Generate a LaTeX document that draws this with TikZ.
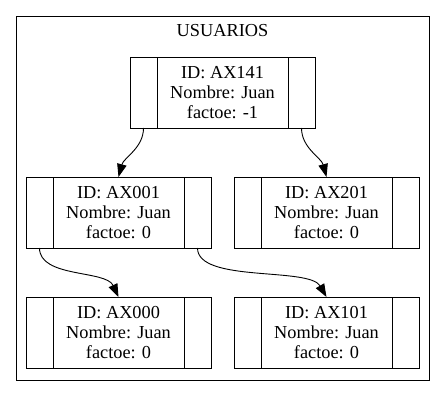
\documentclass[tikz,border=0pt]{standalone}
\usepackage{fontspec}
\setmainfont{Liberation Serif}
\usetikzlibrary{positioning,arrows.meta}
\newcommand\RowTop{92.5}
\newcommand\RowMid{212.5}
\newcommand\RowBot{332.5}
\tikzset{
  field/.style={
    draw,
    line width = 0.9pt,
    minimum width = 131pt,
    minimum height = 71pt,
    inner sep = 0pt,
    outer sep = 0pt,
    align = center,
    font = \fontsize{18.3}{20}\selectfont
  },
  cell/.style={
    draw,
    line width = 0.9pt,
    minimum width = 27pt,
    minimum height = 71pt,
    inner sep = 0pt,
    outer sep = 0pt
  },
  link/.style={
    line width = 0.9pt,
    -{Triangle[length=13pt,width=9.5pt]}
  },
  frame/.style={
    draw,
    line width = 0.9pt
  }
}

\begin{document}
\begin{tikzpicture}[x=1pt,y=-1pt]
    \useasboundingbox (0,0) rectangle (445,396);
    \draw[frame] (16,16) rectangle (429,380);
    \node[font=\fontsize{18.3}{20}\selectfont, anchor=base] (title) at (222.5,36.5) {USUARIOS};

    % top record
    \node[field] (ax141) at (222.5,\RowTop) {ID: AX141\\Nombre: Juan\\factoe: -1};
    \node[cell, left=0pt of ax141] (ax141l) {};
    \node[cell, right=0pt of ax141] (ax141r) {};

    % second row
    \node[field] (ax001) at (118.5,\RowMid) {ID: AX001\\Nombre: Juan\\factoe: 0};
    \node[cell, left=0pt of ax001] (ax001l) {};
    \node[cell, right=0pt of ax001] (ax001r) {};

    \node[field] (ax201) at (326.5,\RowMid) {ID: AX201\\Nombre: Juan\\factoe: 0};
    \node[cell, left=0pt of ax201] (ax201l) {};
    \node[cell, right=0pt of ax201] (ax201r) {};

    % third row
    \node[field] (ax000) at (118.5,\RowBot) {ID: AX000\\Nombre: Juan\\factoe: 0};
    \node[cell, left=0pt of ax000] (ax000l) {};
    \node[cell, right=0pt of ax000] (ax000r) {};

    \node[field] (ax101) at (326.5,\RowBot) {ID: AX101\\Nombre: Juan\\factoe: 0};
    \node[cell, left=0pt of ax101] (ax101l) {};
    \node[cell, right=0pt of ax101] (ax101r) {};

    % children pointers
    \draw[link] (ax141l.south) to[out=-90,in=75,distance=20pt] (ax001.north);
    \draw[link] (ax141r.south) to[out=-90,in=105,distance=20pt] (ax201.north);
    \draw[link] (ax001l.south) to[out=-90,in=115,distance=30pt] (ax000.north);
    \draw[link] (ax001r.south) to[out=-90,in=120,distance=35pt] (ax101.north);
\end{tikzpicture}
\end{document}
